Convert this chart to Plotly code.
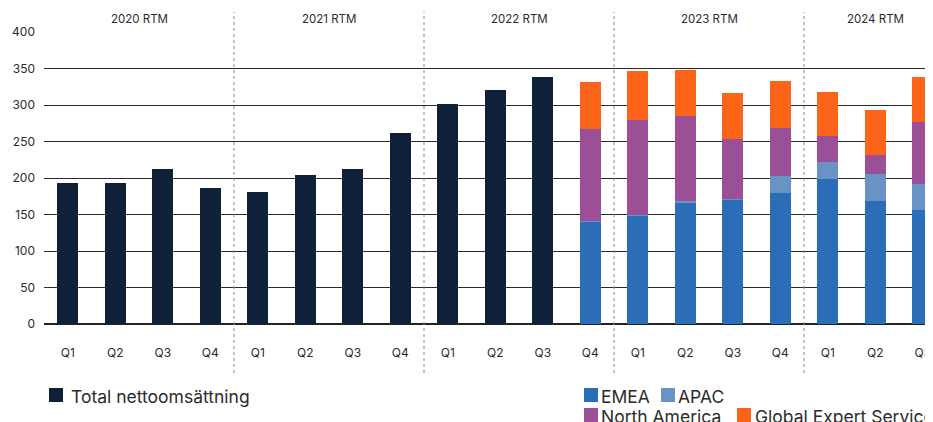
import plotly.graph_objects as go

quarters = ["Q1", "Q2", "Q3", "Q4", "Q1", "Q2", "Q3", "Q4", "Q1", "Q2", "Q3", "Q4",
            "Q1", "Q2", "Q3", "Q4", "Q1", "Q2", "Q3"]
years = ["2020 RTM", "2021 RTM", "2022 RTM", "2023 RTM", "2024 RTM"]
year_centers = [1.5, 5.5, 9.5, 13.5, 17]

total = [193, 193, 212, 186, 181, 204, 212, 261, 301, 320, 338,
         None, None, None, None, None, None, None, None]
emea = [None] * 11 + [140.5, 148.5, 166, 170, 179.5, 198.5, 168.5, 156]
apac = [None] * 11 + [1.2, 0.5, 2.7, 1.3, 23.2, 23.3, 37, 35.6]
north_america = [None] * 11 + [125.5, 130.5, 116.4, 82.1, 65.8, 35.6, 26, 85]
global_expert = [None] * 11 + [64.4, 67.1, 63.1, 63, 64.4, 60.3, 61.7, 61.7]

C_TOTAL = "#0f2139"
C_EMEA = "#2c6db7"
C_APAC = "#6a93c5"
C_NA = "#9b4f96"
C_GES = "#fc6519"

FONT = "Inter, Lato, 'Open Sans', sans-serif"
TXT = "#2b2b2b"

OFF = 8            # page body margin
W, H = 925, 414
L, R = 36, 0
T, BOT = 24, 316   # plot top / bottom in figure pixels
PW = W - L - R
PH = BOT - T
STEP = 47.5        # pixels per category
X_END = -0.5 + PW / STEP


def xp(px):
    return (px - OFF - L) / PW


def yp(py):
    return (BOT - (py - OFF)) / PH


x = list(range(len(quarters)))

fig = go.Figure()
fig.add_trace(go.Bar(x=x, y=total, marker_color=C_TOTAL, name="Total nettoomsättning"))
fig.add_trace(go.Bar(x=x, y=emea, marker_color=C_EMEA, name="EMEA"))
fig.add_trace(go.Bar(x=x, y=apac, marker_color=C_APAC, name="APAC"))
fig.add_trace(go.Bar(x=x, y=north_america, marker_color=C_NA, name="North America"))
fig.add_trace(go.Bar(x=x, y=global_expert, marker_color=C_GES, name="Global Expert Services"))
fig.update_traces(marker_line_width=0, showlegend=False, hoverinfo="x+y+name")

shapes = []
annotations = []

# dotted year dividers
for xd in [3.5, 7.5, 11.5, 15.5]:
    shapes.append(dict(type="line", xref="x", yref="paper", x0=xd, x1=xd,
                       y0=yp(373), y1=yp(12),
                       line=dict(color="#8a8a8a", width=1, dash="dot")))

# year labels
for yc, lab in zip(year_centers, years):
    annotations.append(dict(x=yc, y=yp(19), xref="x", yref="paper", text=lab,
                            showarrow=False, font=dict(family=FONT, size=11.5, color=TXT),
                            xanchor="center", yanchor="middle"))

# manual legends (page pixel coordinates)
legend_items = [
    (49, 388, 69, "Total nettoomsättning", C_TOTAL),
    (584, 388, 599, "EMEA", C_EMEA),
    (661, 388, 676, "APAC", C_APAC),
    (584, 408, 599, "North America", C_NA),
    (737, 408, 753, "Global Expert Services", C_GES),
]
for sx, sy, tx, lab, col in legend_items:
    shapes.append(dict(type="rect", xref="paper", yref="paper",
                       x0=xp(sx), x1=xp(sx + 14), y0=yp(sy + 14), y1=yp(sy),
                       fillcolor=col, line=dict(width=0)))
    annotations.append(dict(x=xp(tx), y=yp(sy + 8), xref="paper", yref="paper", text=lab,
                            showarrow=False, font=dict(family=FONT, size=17.5, color=TXT),
                            xanchor="left", yanchor="middle"))

fig.update_layout(
    width=W, height=H,
    margin=dict(l=L, r=R, t=T, b=H - BOT, pad=0),
    barmode="stack",
    bargap=0.558,
    plot_bgcolor="white", paper_bgcolor="white",
    font=dict(family=FONT, size=12, color=TXT),
    shapes=shapes,
    annotations=annotations,
    showlegend=False,
)
fig.update_xaxes(range=[-0.5, X_END], tickmode="array", tickvals=x, ticktext=quarters,
                 showgrid=False, zeroline=False, showline=False, ticks="",
                 ticklabelstandoff=20, tickfont=dict(family=FONT, size=12, color=TXT))
fig.update_yaxes(range=[0, 400], tickvals=[0, 50, 100, 150, 200, 250, 300, 350, 400],
                 showgrid=True, gridcolor="#2a2a2a", gridwidth=1,
                 zeroline=True, zerolinecolor="#222222", zerolinewidth=2,
                 showline=False, ticks="", ticklabelstandoff=8,
                 tickfont=dict(family=FONT, size=12, color=TXT))

fig.write_html("out.html")
